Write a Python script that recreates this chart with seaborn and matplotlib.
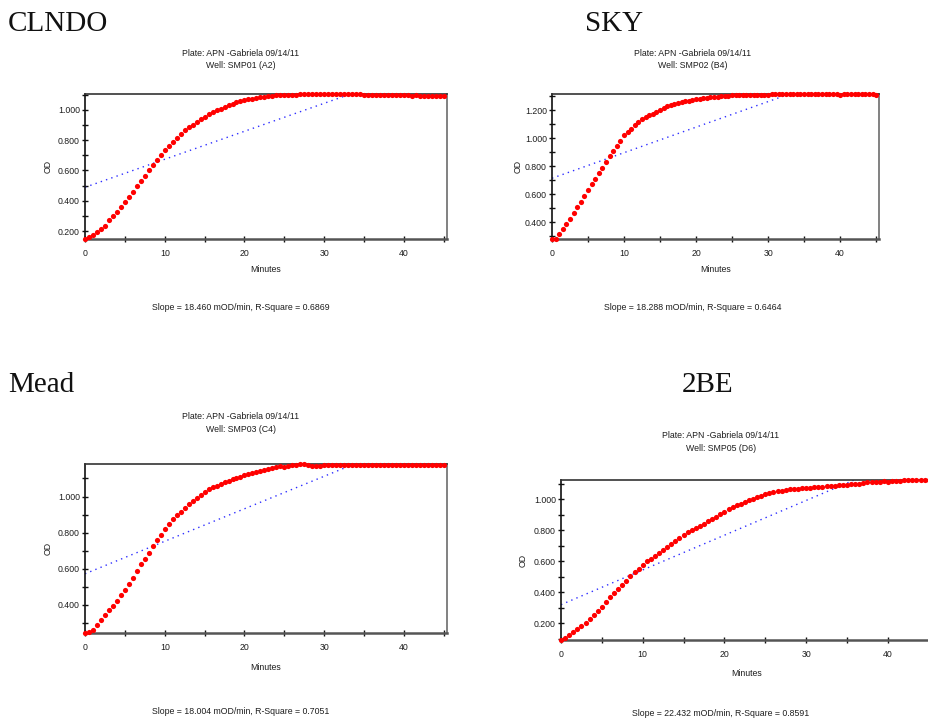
import matplotlib
matplotlib.use("Agg")
import matplotlib.pyplot as plt
from matplotlib.ticker import MultipleLocator, FormatStrFormatter
import numpy as np
import pandas as pd
import seaborn as sns

# ----------------------------------------------------------
# Data  (kinetic read every 30 s, 0 - 45 min)
# ----------------------------------------------------------

minutes = np.arange(91) * 0.5

clndo_od = [
    0.148, 0.163, 0.175, 0.193, 0.215, 0.237, 0.270, 0.297, 0.327, 0.360,
    0.390, 0.422, 0.458, 0.497, 0.531, 0.566, 0.603, 0.638, 0.670, 0.702,
    0.735, 0.762, 0.790, 0.815, 0.840, 0.866, 0.886, 0.900, 0.919, 0.940,
    0.954, 0.969, 0.983, 0.996, 1.007, 1.018, 1.031, 1.039, 1.050, 1.056,
    1.062, 1.068, 1.073, 1.078, 1.084, 1.087, 1.090, 1.093, 1.095, 1.098,
    1.099, 1.099, 1.100, 1.100, 1.101, 1.102, 1.103, 1.103, 1.103, 1.104,
    1.103, 1.104, 1.103, 1.103, 1.104, 1.103, 1.103, 1.103, 1.102, 1.101,
    1.099, 1.098, 1.098, 1.097, 1.098, 1.097, 1.097, 1.097, 1.097, 1.096,
    1.095, 1.095, 1.094, 1.095, 1.094, 1.094, 1.093, 1.093, 1.092, 1.092,
    1.092,
]

sky_od = [
    0.279, 0.280, 0.312, 0.352, 0.389, 0.419, 0.466, 0.505, 0.545, 0.586,
    0.630, 0.673, 0.711, 0.752, 0.790, 0.828, 0.870, 0.909, 0.948, 0.983,
    1.023, 1.048, 1.069, 1.094, 1.114, 1.140, 1.152, 1.164, 1.177, 1.190,
    1.204, 1.216, 1.229, 1.237, 1.245, 1.253, 1.260, 1.265, 1.270, 1.274,
    1.278, 1.282, 1.286, 1.290, 1.293, 1.294, 1.296, 1.300, 1.303, 1.306,
    1.308, 1.309, 1.310, 1.311, 1.312, 1.312, 1.311, 1.312, 1.313, 1.312,
    1.313, 1.314, 1.314, 1.315, 1.315, 1.314, 1.315, 1.315, 1.316, 1.315,
    1.315, 1.316, 1.315, 1.315, 1.314, 1.315, 1.315, 1.316, 1.317, 1.316,
    1.312, 1.315, 1.316, 1.316, 1.316, 1.317, 1.316, 1.316, 1.316, 1.316,
    1.313,
]

mead_od = [
    0.244, 0.248, 0.258, 0.288, 0.318, 0.345, 0.372, 0.396, 0.422, 0.454,
    0.484, 0.518, 0.548, 0.588, 0.625, 0.656, 0.688, 0.724, 0.758, 0.789,
    0.820, 0.849, 0.876, 0.895, 0.913, 0.936, 0.956, 0.973, 0.989, 1.008,
    1.025, 1.039, 1.050, 1.059, 1.069, 1.079, 1.087, 1.097, 1.104, 1.108,
    1.118, 1.124, 1.131, 1.137, 1.143, 1.149, 1.152, 1.158, 1.166, 1.168,
    1.163, 1.169, 1.174, 1.177, 1.180, 1.179, 1.177, 1.171, 1.169, 1.170,
    1.172, 1.173, 1.173, 1.173, 1.173, 1.173, 1.173, 1.173, 1.173, 1.173,
    1.173, 1.173, 1.173, 1.173, 1.173, 1.173, 1.174, 1.173, 1.174, 1.177,
    1.173, 1.176, 1.175, 1.176, 1.176, 1.175, 1.176, 1.177, 1.173, 1.173,
    1.173,
]

be2_od = [
    0.092, 0.106, 0.124, 0.142, 0.161, 0.182, 0.204, 0.230, 0.256, 0.282,
    0.308, 0.338, 0.368, 0.394, 0.421, 0.448, 0.475, 0.502, 0.528, 0.551,
    0.574, 0.599, 0.616, 0.635, 0.654, 0.675, 0.694, 0.715, 0.734, 0.752,
    0.771, 0.787, 0.800, 0.814, 0.829, 0.843, 0.859, 0.874, 0.889, 0.905,
    0.921, 0.935, 0.948, 0.961, 0.973, 0.983, 0.994, 1.004, 1.015, 1.024,
    1.032, 1.038, 1.045, 1.051, 1.055, 1.059, 1.065, 1.068, 1.070, 1.072,
    1.074, 1.076, 1.078, 1.081, 1.083, 1.085, 1.086, 1.088, 1.090, 1.092,
    1.094, 1.096, 1.098, 1.101, 1.105, 1.109, 1.111, 1.113, 1.114, 1.116,
    1.114, 1.117, 1.119, 1.121, 1.122, 1.123, 1.124, 1.125, 1.125, 1.125,
    1.125,
]

sample_names   = ["CLNDO", "SKY", "Mead", "2BE"]
wells          = ["SMP01 (A2)", "SMP02 (B4)", "SMP03 (C4)", "SMP05 (D6)"]
slopes_mod     = [18.460, 18.288, 18.004, 22.432]     # mOD/min
r_squares      = [0.6869, 0.6464, 0.7051, 0.8591]
fit_intercepts = [0.489, 0.714, 0.572, 0.320]
plate_name     = "APN -Gabriela 09/14/11"

series = [clndo_od, sky_od, mead_od, be2_od]

# ----------------------------------------------------------
# Layout (pixels on a 929 x 722 canvas)
# ----------------------------------------------------------

W, H = 929, 722

# axes box: left, top, right, bottom
axes_px = [
    (85, 94, 447, 239),
    (552, 94, 879, 239),
    (85, 464, 447, 633),
    (561, 480, 932, 640),
]
# big sample name: x, baseline y
name_px = [(8, 31), (585, 31), (8, 392), (682, 392)]
# centre x of header / footer, y of the two header lines and footer
header_px = [(241, 53, 66, 307), (693, 53, 66, 307),
             (241, 416, 430, 712), (721, 436, 449, 713)]
# OD label x, Minutes label y
label_px = [(48, 269), (518, 269), (48, 668), (523, 673)]

sns.set_style("white")
plt.rcParams["font.family"] = ["Liberation Sans", "DejaVu Sans"]

TXT = "#1e1e1e"
SMALL = 6.3

fig = plt.figure(figsize=(W / 100, H / 100), dpi=100)
fig.patch.set_facecolor("white")


def fx(x):
    return x / W


def fy(y):
    return 1 - y / H


for i, od in enumerate(series):
    left, top, right, bottom = axes_px[i]
    ax = fig.add_axes([fx(left), fy(bottom), (right - left) / W, (bottom - top) / H])
    ax.set_facecolor("white")

    df = pd.DataFrame({"Minutes": minutes, "OD": od})

    # linear fit line, clipped by the axes box
    ax.axline((0, fit_intercepts[i]), slope=slopes_mod[i] / 1000.0,
              color="#2e2eff", lw=1.0, ls=(0, (1, 3.0)), zorder=2)

    sns.scatterplot(data=df, x="Minutes", y="OD", ax=ax,
                    color="#ff0000", s=14, linewidth=0,
                    clip_on=False, zorder=3, legend=False)

    ax.set_xlim(0, 45.4)
    ax.set_ylim(min(od), max(od))
    ax.set_xlabel("")
    ax.set_ylabel("")

    ax.xaxis.set_major_locator(MultipleLocator(10))
    ax.xaxis.set_minor_locator(MultipleLocator(5))
    ax.yaxis.set_major_locator(MultipleLocator(0.2))
    ax.yaxis.set_minor_locator(MultipleLocator(0.1))
    ax.yaxis.set_major_formatter(FormatStrFormatter("%.3f"))

    ax.tick_params(axis="both", which="both", direction="inout",
                   length=5, width=1, color="#111111",
                   bottom=True, left=True, top=False, right=False,
                   labelsize=SMALL, labelcolor=TXT)
    ax.tick_params(axis="y", which="both", pad=1.2)
    ax.tick_params(axis="x", which="both", pad=4.5)

    ax.spines["left"].set_color("#111111")
    ax.spines["left"].set_linewidth(1.2)
    ax.spines["bottom"].set_color("#555555")
    ax.spines["bottom"].set_linewidth(1.8)
    ax.spines["top"].set_color("#333333")
    ax.spines["top"].set_linewidth(1.2)
    ax.spines["right"].set_color("#777777")
    ax.spines["right"].set_linewidth(1.3)

    # texts around each chart
    nx, ny = name_px[i]
    fig.text(fx(nx), fy(ny), sample_names[i], ha="left", va="baseline",
             fontsize=21, family=["Liberation Serif", "DejaVu Serif"], color="#111111")

    cx, h1, h2, fyy = header_px[i]
    fig.text(fx(cx), fy(h1), "Plate: " + plate_name, ha="center", va="center",
             fontsize=SMALL, color=TXT)
    fig.text(fx(cx), fy(h2), "Well: " + wells[i], ha="center", va="center",
             fontsize=SMALL, color=TXT)
    fig.text(fx(cx), fy(fyy),
             f"Slope = {slopes_mod[i]:.3f} mOD/min, R-Square = {r_squares[i]:.4f}",
             ha="center", va="center", fontsize=SMALL, color=TXT)

    ox, my = label_px[i]
    fig.text(fx(ox), fy((top + bottom) / 2), "OD", rotation=90, ha="center",
             va="center", fontsize=SMALL, color=TXT)
    fig.text(fx((left + right) / 2), fy(my), "Minutes", ha="center", va="center",
             fontsize=SMALL, color=TXT)

fig.savefig("out.png", dpi=100, facecolor="white")
plt.close(fig)
